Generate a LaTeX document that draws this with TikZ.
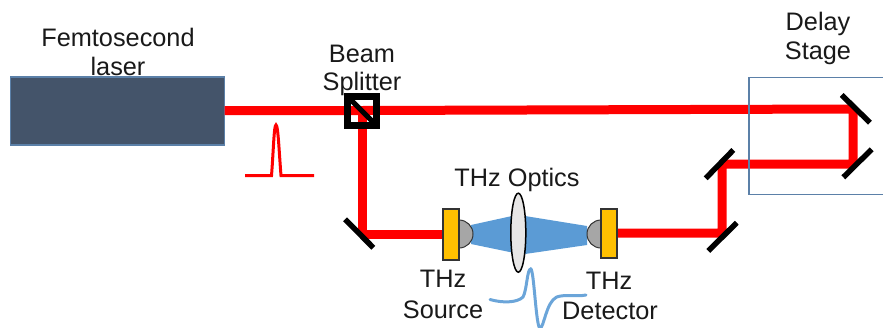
\documentclass[tikz,border=0pt]{standalone}
\usepackage{fontspec}
\usetikzlibrary{shapes.geometric}
\setmainfont{Liberation Sans}
\definecolor{beamred}{HTML}{FF0000}
\definecolor{laserfill}{HTML}{44546A}
\definecolor{boxline}{HTML}{5B80A8}
\definecolor{thzblue}{HTML}{5B9BD5}
\definecolor{chipyellow}{HTML}{FFC000}
\definecolor{domegray}{HTML}{A6A6A6}
\definecolor{lensgray}{HTML}{E7E6E6}
\tikzset{
  beam/.style={draw=beamred,line width=9pt,line join=bevel},
  mirror/.style={draw=black,line width=5.5pt},
  lbl/.style={inner sep=0pt,anchor=base,font=\fontsize{25.3}{25.3}\selectfont,text=black!90},
  chip/.style={draw=black!80,line width=1.6pt,fill=chipyellow},
  dome/.style={draw=black!80,line width=1pt,fill=domegray},
}
\begin{document}
\begin{tikzpicture}[x=1pt,y=-1pt]
\useasboundingbox (0,0) rectangle (883,327);
% coordinates
\coordinate (laserR) at (224,110.5);
\coordinate (bs) at (362,110.5);
\coordinate (dTop) at (853,109);
\coordinate (dBot) at (853,164);
\coordinate (mIn) at (722,164);
\coordinate (mOut) at (722,233);
\coordinate (mL) at (362,234);
% labels
\node[lbl] (t1) at (118,46) {Femtosecond};
\node[lbl] (t2) at (118,75) {laser};
\node[lbl] (t3) at (362,62.7) {Beam};
\node[lbl] (t4) at (362,90.7) {Splitter};
\node[lbl] (t5) at (818,30) {Delay};
\node[lbl] (t6) at (818,59) {Stage};
\node[lbl] (t7) at (517,186) {THz Optics};
\node[lbl] (t8) at (443,287) {THz};
\node[lbl] (t9) at (443,318) {Source};
\node[lbl] (t10) at (609,289) {THz};
\node[lbl] (t11) at (610,319) {Detector};
% laser
\node[draw=boxline,line width=1.5pt,fill=laserfill,minimum width=214pt,minimum height=68pt,inner sep=0pt,outer sep=0pt] (laser) at (117.5,111) {};
% beams
\draw[beam] (laser.east |- laserR) -- (bs) -- (dTop) -- (dBot) -- (mIn) -- (mOut) -- (610,233);
\draw[beam] (bs) -- (mL) -- (450,234);
% delay box
\draw[boxline,line width=1.3pt] (884,77.7) -- (749,77.7) -- (749,194.3) -- (884,194.3);
% mirrors
\draw[mirror] (841.7,95) -- (870,122.7);
\draw[mirror] (871.7,149.3) -- (843.3,177.3);
\draw[mirror] (733.3,150) -- (705.7,178.3);
\draw[mirror] (736.7,222.7) -- (708.3,251);
\draw[mirror] (345,219.3) -- (373.3,247.7);
% beam splitter
\node[draw=black,line width=7pt,minimum size=29pt,inner sep=0pt,outer sep=0pt] (split) at (362,111) {};
\draw[black,line width=5pt] (split.north west) -- (split.south east);
% pulse
\draw[beamred,line width=3pt] (245,175.7) -- (271.5,175.7) .. controls (273.5,150) and (274,125) .. (276,125) .. controls (278,125) and (279,150) .. (281,175.7) -- (314,175.7);
% THz cone
\fill[thzblue] (471,225) -- (512,216) -- (512,252.5) -- (471,244) -- cycle;
\fill[thzblue] (525,216) -- (587,226) -- (587,245) -- (525,254) -- cycle;
% domes
\draw[dome] (459,220) arc[start angle=-90,end angle=90,radius=14] -- cycle;
\draw[dome] (601,220) arc[start angle=-90,end angle=-270,radius=14] -- cycle;
% chips
\node[chip,minimum width=16pt,minimum height=51pt,inner sep=0pt,outer sep=0pt] (source) at (451,234.5) {};
\node[chip,minimum width=16pt,minimum height=49pt,inner sep=0pt,outer sep=0pt] (detector) at (609,233.5) {};
% lens
\node[draw=black,line width=1.5pt,fill=lensgray,ellipse,minimum width=15pt,minimum height=79pt,inner sep=0pt,outer sep=0pt] (lens) at (518.3,232.7) {};
% wave
\draw[thzblue!90!white,line width=3pt,line cap=round] (490,299.5) .. controls (502,303) and (517,303) .. (523,297) .. controls (527,290) and (527,269) .. (530.7,269) .. controls (534,269) and (536,328) .. (540,328) .. controls (544,328) and (546,302) .. (556.7,297) .. controls (565,294) and (576,297) .. (586,295);
\end{tikzpicture}
\end{document}
